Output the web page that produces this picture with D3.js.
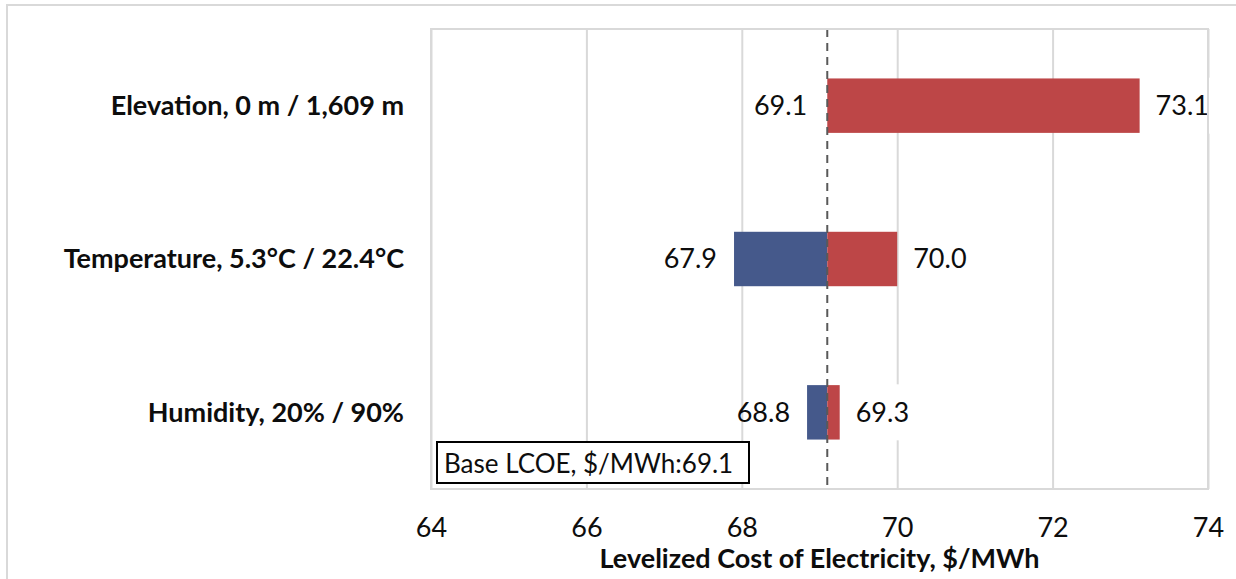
<!DOCTYPE html>
<html>
<head>
<meta charset="utf-8">
<script src="https://cdn.jsdelivr.net/npm/d3@7"></script>
<style>
  html, body { margin: 0; padding: 0; background: #ffffff; }
  svg { display: block; }
</style>
</head>
<body>
<svg id="chart" width="1236" height="579"></svg>
<script>
// ---- data ----
const categories = ["Elevation, 0 m / 1,609 m", "Temperature, 5.3°C / 22.4°C", "Humidity, 20% / 90%"];
const lowValues = [69.1, 67.9, 68.84];
const highValues = [73.12, 70.0, 69.26];
const baseValue = 69.1;
const xTicks = [64, 66, 68, 70, 72, 74];
const xDomain = [64, 74];
const axisTitle = "Levelized Cost of Electricity, $/MWh";
const baseLabel = "Base LCOE, $/MWh:";

// ---- layout ----
const W = 1236, H = 579;
const plot = { left: 431, right: 1208, top: 29, bottom: 489 };
const FONT = "Lato, 'Open Sans', sans-serif";
const TXT = "#0d0d0d";
const blue = "#45598b";
const red = "#bd4647";
const gridColor = "#d9d9d9";

const svg = d3.select("#chart");

// outer chart border
svg.append("rect")
  .attr("x", 7).attr("y", 5)
  .attr("width", W + 20).attr("height", H + 20)
  .attr("fill", "#ffffff")
  .attr("stroke", gridColor).attr("stroke-width", 2);

const x = d3.scaleLinear().domain(xDomain).range([plot.left, plot.right]);
const y = d3.scaleBand().domain(categories)
  .range([plot.top, plot.bottom])
  .paddingInner(0.645).paddingOuter(0.3225);

// x axis with gridlines
const xAxis = d3.axisBottom(x).tickValues(xTicks).tickSize(-(plot.bottom - plot.top)).tickPadding(29).tickFormat(d3.format("d"));
const gx = svg.append("g").attr("transform", `translate(0,${plot.bottom})`).call(xAxis);
gx.select(".domain").remove();
gx.selectAll(".tick line").attr("stroke", gridColor).attr("stroke-width", 2);
gx.selectAll(".tick text")
  .attr("font-family", FONT).attr("font-size", 27).attr("fill", TXT);

// bars
const rows = categories.map((c, i) => ({ cat: c, low: lowValues[i], high: highValues[i] }));
const g = svg.append("g");

g.selectAll("rect.low").data(rows).join("rect")
  .attr("class", "low")
  .attr("x", d => x(Math.min(d.low, baseValue)))
  .attr("y", d => y(d.cat))
  .attr("width", d => Math.abs(x(baseValue) - x(d.low)))
  .attr("height", y.bandwidth())
  .attr("fill", blue);

g.selectAll("rect.high").data(rows).join("rect")
  .attr("class", "high")
  .attr("x", d => x(baseValue))
  .attr("y", d => y(d.cat))
  .attr("width", d => x(d.high) - x(baseValue))
  .attr("height", y.bandwidth())
  .attr("fill", red);

// base line (dashed)
svg.append("line")
  .attr("x1", x(baseValue)).attr("x2", x(baseValue))
  .attr("y1", plot.top).attr("y2", plot.bottom)
  .attr("stroke", "#595959").attr("stroke-width", 2)
  .attr("stroke-dasharray", "8,6");

// value labels
const fmt = d3.format(".1f");
const lab = svg.append("g").attr("font-family", FONT).attr("font-size", 27).attr("fill", TXT);

rows.forEach(d => {
  const cy = y(d.cat) + y.bandwidth() / 2;
  lab.append("text")
    .attr("x", x(Math.min(d.low, baseValue)) - (d.low >= baseValue ? 20 : 17))
    .attr("y", cy).attr("dy", "0.35em")
    .attr("text-anchor", "end")
    .text(fmt(d.low));
  const ht = lab.append("text")
    .attr("x", x(d.high) + 16).attr("y", cy).attr("dy", "0.35em")
    .attr("text-anchor", "start")
    .text(fmt(d.high));
  const bb = ht.node().getBBox();
  lab.insert("rect", "text")
    .attr("x", bb.x - 2).attr("y", cy - 28)
    .attr("width", bb.width + 4).attr("height", 56)
    .attr("fill", "#ffffff");
});

// plot area border (drawn over labels)
svg.append("rect")
  .attr("x", plot.left).attr("y", plot.top)
  .attr("width", plot.right - plot.left).attr("height", plot.bottom - plot.top)
  .attr("fill", "none").attr("stroke", gridColor).attr("stroke-width", 2);

// category labels
svg.append("g").selectAll("text").data(categories).join("text")
  .attr("x", 404)
  .attr("y", d => y(d) + y.bandwidth() / 2)
  .attr("dy", "0.35em")
  .attr("text-anchor", "end")
  .attr("font-family", FONT).attr("font-weight", "bold").attr("font-size", 27)
  .attr("fill", TXT)
  .text(d => d);

// axis title
svg.append("text")
  .attr("x", (plot.left + plot.right) / 2).attr("y", 568)
  .attr("text-anchor", "middle")
  .attr("font-family", FONT).attr("font-weight", "bold").attr("font-size", 27)
  .attr("fill", TXT)
  .text(axisTitle);

// base LCOE annotation box
svg.append("rect")
  .attr("x", 437).attr("y", 442).attr("width", 312).attr("height", 41)
  .attr("fill", "#ffffff").attr("stroke", "#000000").attr("stroke-width", 2);
svg.append("text")
  .attr("x", 444).attr("y", 473)
  .attr("font-family", FONT).attr("font-size", 26).attr("fill", TXT)
  .text(baseLabel + fmt(baseValue));
</script>
</body>
</html>
